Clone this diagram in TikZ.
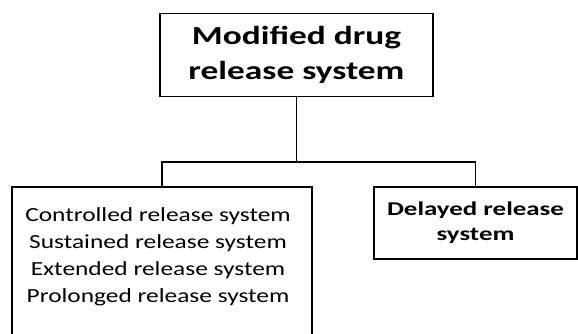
\documentclass[tikz,border=0pt]{standalone}
\usepackage{fontspec}
\usepackage{graphicx}
\setmainfont{Carlito}
\newfontfamily\topfont[FakeStretch=1.36]{Carlito Bold}
\newfontfamily\listfont[FakeStretch=1.27]{Carlito}
\newfontfamily\plainbold{Carlito Bold}
\tikzset{
  box/.style={draw=black, line width=1.8pt, rectangle, inner sep=0pt, align=center},
  conn/.style={draw=black, line width=1.8pt}
}
\begin{document}
\begin{tikzpicture}[x=1pt, y=-1pt]
\useasboundingbox (0,0) rectangle (578,334);
\clip (0,0) rectangle (578,334);
\node[box, minimum width=273pt, minimum height=83pt,
      font=\topfont\fontsize{26}{35}\selectfont]
  (top) at (296.5,55) {Modified drug\\release system};
\node[box, minimum width=300pt, minimum height=160pt] (left) at (162,267) {};
\node[align=center, inner sep=0pt,
      font=\listfont\fontsize{20}{27}\selectfont]
  (lefttext) at (158,257) {Controlled release system\\Sustained release system\\Extended release system\\Prolonged release system};
\node[box, minimum width=203pt, minimum height=72pt]
  (right) at (475.5,223) {\scalebox{1.38}[1]{\plainbold\fontsize{19.5}{25}\selectfont
    \begin{tabular}{@{}c@{}}Delayed release\\system\end{tabular}}};
\coordinate (j) at (296.5,162);
\draw[conn] (top.south) -- (j);
\draw[conn] (left.north) |- (j) -| (right.north);
\end{tikzpicture}
\end{document}
